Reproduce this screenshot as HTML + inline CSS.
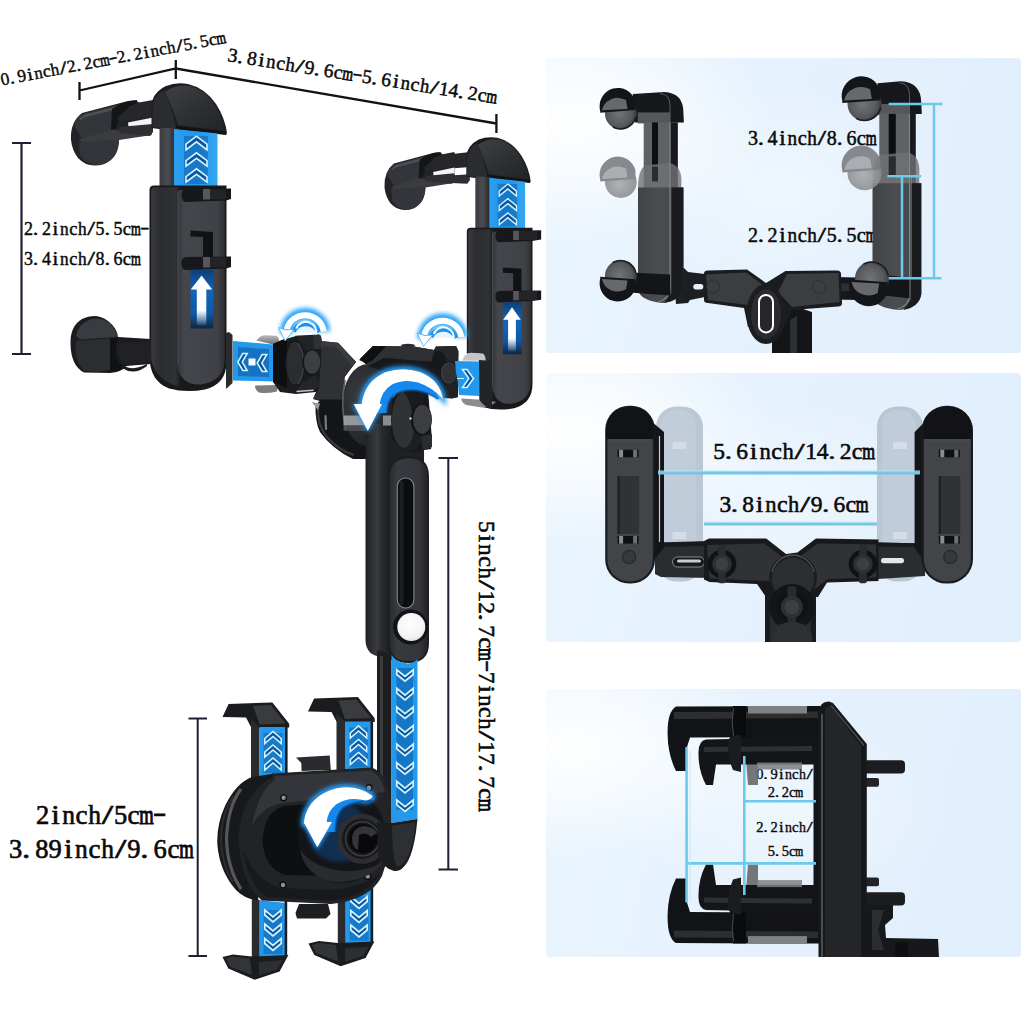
<!DOCTYPE html>
<html><head><meta charset="utf-8"><title>Holder dimensions</title>
<style>
html,body{margin:0;padding:0;background:#fff;}
body{width:1024px;height:1024px;overflow:hidden;font-family:"Liberation Serif",serif;}
svg{display:block;font-family:"Liberation Serif",serif;}
</style></head><body>
<svg width="1024" height="1024" viewBox="0 0 1024 1024">
<defs>
<linearGradient id="pg1" x1="0" y1="0" x2="1" y2="0.15">
 <stop offset="0" stop-color="#eaf5fe"/><stop offset="0.4" stop-color="#e6f2fd"/><stop offset="1" stop-color="#e2effc"/>
</linearGradient>
<radialGradient id="pgw" cx="0.06" cy="0.22" r="0.42" gradientTransform="scale(1,1)">
 <stop offset="0" stop-color="#ffffff" stop-opacity="0.95"/><stop offset="0.5" stop-color="#ffffff" stop-opacity="0.55"/><stop offset="1" stop-color="#ffffff" stop-opacity="0"/>
</radialGradient>
<radialGradient id="pgc" cx="0.5" cy="0.45" r="0.35">
 <stop offset="0" stop-color="#ffffff" stop-opacity="0.4"/><stop offset="1" stop-color="#ffffff" stop-opacity="0"/>
</radialGradient>
<linearGradient id="blueV" x1="0" y1="0" x2="1" y2="0">
 <stop offset="0" stop-color="#1177cc"/><stop offset="0.5" stop-color="#2a9cf0"/><stop offset="1" stop-color="#1a86dc"/>
</linearGradient>
<filter id="glow" x="-50%" y="-50%" width="200%" height="200%"><feGaussianBlur stdDeviation="3"/></filter>
<filter id="soft" x="-20%" y="-20%" width="140%" height="140%"><feGaussianBlur stdDeviation="0.6"/></filter>
</defs>
<rect width="1024" height="1024" fill="#ffffff"/>
<rect x="546" y="58" width="475" height="295" rx="3.5" fill="url(#pg1)"/>
<rect x="546" y="373" width="475" height="269" rx="3.5" fill="url(#pg1)"/>
<rect x="546" y="689" width="475" height="268" rx="3.5" fill="url(#pg1)"/>
<rect x="546" y="58" width="475" height="295" rx="3.5" fill="url(#pgw)"/>
<rect x="546" y="373" width="475" height="269" rx="3.5" fill="url(#pgw)"/>
<rect x="546" y="689" width="475" height="268" rx="3.5" fill="url(#pgw)"/>
<rect x="546" y="58" width="475" height="295" rx="3.5" fill="url(#pgc)"/>
<rect x="546" y="373" width="475" height="269" rx="3.5" fill="url(#pgc)"/>
<rect x="546" y="689" width="475" height="268" rx="3.5" fill="url(#pgc)"/>

<g stroke="#1b2033" stroke-width="2" fill="none" stroke-linecap="butt">
<path stroke="#101218" stroke-width="2.3" d="M79.5,82V100M79.5,90.5L175.8,68.5L496.4,123.5M175.8,60V79M496.4,114V133"/>
<path d="M21.5,143V354M12,143H31M12,354H31" stroke-width="2.2"/>
<path d="M448.3,458V869M438.5,458H458M438.5,869.5H458" stroke-width="2"/>
<path d="M197.7,718.5V956M188.5,718.5H207M188.5,956H207" stroke-width="2"/>
</g>
<g transform="translate(2,85.5) rotate(-10.8)" font-size="17.5" font-weight="normal" fill="#0a0a0a" stroke="#0a0a0a" stroke-width="0.42" text-anchor="middle"><text transform="translate(4.2,0) scale(1,1)">0</text><text transform="translate(11.0,0) scale(1.25,1)">.</text><text transform="translate(21.1,0) scale(1,1)">9</text><text transform="translate(29.6,0) scale(1.15,1)">i</text><text transform="translate(38.0,0) scale(0.96,1)">n</text><text transform="translate(46.5,0) scale(1.02,1)">c</text><text transform="translate(54.9,0) scale(0.96,1)">h</text><text transform="translate(63.4,0) scale(1.55,1)">/</text><text transform="translate(71.8,0) scale(1,1)">2</text><text transform="translate(78.6,0) scale(1.25,1)">.</text><text transform="translate(88.7,0) scale(1,1)">2</text><text transform="translate(97.2,0) scale(1.02,1)">c</text><text vector-effect="non-scaling-stroke" stroke-width="0.63" transform="translate(105.6,0) scale(0.7,1)">m</text><text transform="translate(114.1,-1.75) scale(1.5,1)">-</text><text transform="translate(122.5,0) scale(1,1)">2</text><text transform="translate(129.3,0) scale(1.25,1)">.</text><text transform="translate(139.4,0) scale(1,1)">2</text><text transform="translate(147.9,0) scale(1.15,1)">i</text><text transform="translate(156.3,0) scale(0.96,1)">n</text><text transform="translate(164.8,0) scale(1.02,1)">c</text><text transform="translate(173.2,0) scale(0.96,1)">h</text><text transform="translate(181.7,0) scale(1.55,1)">/</text><text transform="translate(190.1,0) scale(1,1)">5</text><text transform="translate(196.9,0) scale(1.25,1)">.</text><text transform="translate(207.0,0) scale(1,1)">5</text><text transform="translate(215.5,0) scale(1.02,1)">c</text><text vector-effect="non-scaling-stroke" stroke-width="0.63" transform="translate(223.9,0) scale(0.7,1)">m</text></g>
<g transform="translate(227,61) rotate(9)" font-size="19.5" font-weight="normal" fill="#0a0a0a" stroke="#0a0a0a" stroke-width="0.47" text-anchor="middle"><text transform="translate(4.9,0) scale(1,1)">3</text><text transform="translate(12.6,0) scale(1.25,1)">.</text><text transform="translate(24.3,0) scale(1,1)">8</text><text transform="translate(34.0,0) scale(1.15,1)">i</text><text transform="translate(43.7,0) scale(0.96,1)">n</text><text transform="translate(53.5,0) scale(1.02,1)">c</text><text transform="translate(63.2,0) scale(0.96,1)">h</text><text transform="translate(72.9,0) scale(1.55,1)">/</text><text transform="translate(82.6,0) scale(1,1)">9</text><text transform="translate(90.4,0) scale(1.25,1)">.</text><text transform="translate(102.1,0) scale(1,1)">6</text><text transform="translate(111.8,0) scale(1.02,1)">c</text><text vector-effect="non-scaling-stroke" stroke-width="0.70" transform="translate(121.5,0) scale(0.7,1)">m</text><text transform="translate(131.2,-1.95) scale(1.5,1)">-</text><text transform="translate(140.9,0) scale(1,1)">5</text><text transform="translate(148.7,0) scale(1.25,1)">.</text><text transform="translate(160.4,0) scale(1,1)">6</text><text transform="translate(170.1,0) scale(1.15,1)">i</text><text transform="translate(179.8,0) scale(0.96,1)">n</text><text transform="translate(189.5,0) scale(1.02,1)">c</text><text transform="translate(199.3,0) scale(0.96,1)">h</text><text transform="translate(209.0,0) scale(1.55,1)">/</text><text transform="translate(218.7,0) scale(1,1)">1</text><text transform="translate(228.4,0) scale(1,1)">4</text><text transform="translate(236.2,0) scale(1.25,1)">.</text><text transform="translate(247.9,0) scale(1,1)">2</text><text transform="translate(257.6,0) scale(1.02,1)">c</text><text vector-effect="non-scaling-stroke" stroke-width="0.70" transform="translate(267.3,0) scale(0.7,1)">m</text></g>
<g  font-size="18" font-weight="normal" fill="#0a0a0a" stroke="#0a0a0a" stroke-width="0.43" text-anchor="middle"><text transform="translate(28.5,235) scale(1,1)">2</text><text transform="translate(35.6,235) scale(1.25,1)">.</text><text transform="translate(46.4,235) scale(1,1)">2</text><text transform="translate(55.3,235) scale(1.15,1)">i</text><text transform="translate(64.3,235) scale(0.96,1)">n</text><text transform="translate(73.2,235) scale(1.02,1)">c</text><text transform="translate(82.2,235) scale(0.96,1)">h</text><text transform="translate(91.1,235) scale(1.55,1)">/</text><text transform="translate(100.1,235) scale(1,1)">5</text><text transform="translate(107.2,235) scale(1.25,1)">.</text><text transform="translate(118.0,235) scale(1,1)">5</text><text transform="translate(126.9,235) scale(1.02,1)">c</text><text vector-effect="non-scaling-stroke" stroke-width="0.65" transform="translate(135.9,235) scale(0.7,1)">m</text><text transform="translate(144.8,233.2) scale(1.5,1)">-</text></g>
<g  font-size="18" font-weight="normal" fill="#0a0a0a" stroke="#0a0a0a" stroke-width="0.43" text-anchor="middle"><text transform="translate(28.5,265) scale(1,1)">3</text><text transform="translate(35.6,265) scale(1.25,1)">.</text><text transform="translate(46.4,265) scale(1,1)">4</text><text transform="translate(55.3,265) scale(1.15,1)">i</text><text transform="translate(64.3,265) scale(0.96,1)">n</text><text transform="translate(73.2,265) scale(1.02,1)">c</text><text transform="translate(82.2,265) scale(0.96,1)">h</text><text transform="translate(91.1,265) scale(1.55,1)">/</text><text transform="translate(100.1,265) scale(1,1)">8</text><text transform="translate(107.2,265) scale(1.25,1)">.</text><text transform="translate(118.0,265) scale(1,1)">6</text><text transform="translate(126.9,265) scale(1.02,1)">c</text><text vector-effect="non-scaling-stroke" stroke-width="0.65" transform="translate(135.9,265) scale(0.7,1)">m</text></g>
<g transform="translate(479,521) rotate(90)" font-size="23.5" font-weight="normal" fill="#0a0a0a" stroke="#0a0a0a" stroke-width="0.56" text-anchor="middle"><text transform="translate(5.8,0) scale(1,1)">5</text><text transform="translate(17.4,0) scale(1.15,1)">i</text><text transform="translate(29.0,0) scale(0.96,1)">n</text><text transform="translate(40.6,0) scale(1.02,1)">c</text><text transform="translate(52.2,0) scale(0.96,1)">h</text><text transform="translate(63.8,0) scale(1.55,1)">/</text><text transform="translate(75.4,0) scale(1,1)">1</text><text transform="translate(87.0,0) scale(1,1)">2</text><text transform="translate(96.3,0) scale(1.25,1)">.</text><text transform="translate(110.2,0) scale(1,1)">7</text><text transform="translate(121.8,0) scale(1.02,1)">c</text><text vector-effect="non-scaling-stroke" stroke-width="0.85" transform="translate(133.4,0) scale(0.7,1)">m</text><text transform="translate(145.0,-2.35) scale(1.5,1)">-</text><text transform="translate(156.6,0) scale(1,1)">7</text><text transform="translate(168.2,0) scale(1.15,1)">i</text><text transform="translate(179.8,0) scale(0.96,1)">n</text><text transform="translate(191.4,0) scale(1.02,1)">c</text><text transform="translate(203.0,0) scale(0.96,1)">h</text><text transform="translate(214.6,0) scale(1.55,1)">/</text><text transform="translate(226.2,0) scale(1,1)">1</text><text transform="translate(237.8,0) scale(1,1)">7</text><text transform="translate(247.1,0) scale(1.25,1)">.</text><text transform="translate(261.0,0) scale(1,1)">7</text><text transform="translate(272.6,0) scale(1.02,1)">c</text><text vector-effect="non-scaling-stroke" stroke-width="0.85" transform="translate(284.2,0) scale(0.7,1)">m</text></g>
<g  font-size="26.5" font-weight="normal" fill="#0a0a0a" stroke="#0a0a0a" stroke-width="0.64" text-anchor="middle"><text transform="translate(42.5,824) scale(1,1)">2</text><text transform="translate(55.5,824) scale(1.15,1)">i</text><text transform="translate(68.5,824) scale(0.96,1)">n</text><text transform="translate(81.5,824) scale(1.02,1)">c</text><text transform="translate(94.5,824) scale(0.96,1)">h</text><text transform="translate(107.5,824) scale(1.55,1)">/</text><text transform="translate(120.5,824) scale(1,1)">5</text><text transform="translate(133.5,824) scale(1.02,1)">c</text><text vector-effect="non-scaling-stroke" stroke-width="0.95" transform="translate(146.5,824) scale(0.7,1)">m</text><text transform="translate(159.5,821.35) scale(1.5,1)">-</text></g>
<g  font-size="26.5" font-weight="normal" fill="#0a0a0a" stroke="#0a0a0a" stroke-width="0.64" text-anchor="middle"><text transform="translate(15.6,858) scale(1,1)">3</text><text transform="translate(26.1,858) scale(1.25,1)">.</text><text transform="translate(41.9,858) scale(1,1)">8</text><text transform="translate(55.0,858) scale(1,1)">9</text><text transform="translate(68.2,858) scale(1.15,1)">i</text><text transform="translate(81.3,858) scale(0.96,1)">n</text><text transform="translate(94.5,858) scale(1.02,1)">c</text><text transform="translate(107.6,858) scale(0.96,1)">h</text><text transform="translate(120.8,858) scale(1.55,1)">/</text><text transform="translate(133.9,858) scale(1,1)">9</text><text transform="translate(144.4,858) scale(1.25,1)">.</text><text transform="translate(160.2,858) scale(1,1)">6</text><text transform="translate(173.4,858) scale(1.02,1)">c</text><text vector-effect="non-scaling-stroke" stroke-width="0.95" transform="translate(186.5,858) scale(0.7,1)">m</text></g>
<g  font-size="20" font-weight="normal" fill="#0a0a0a" stroke="#0a0a0a" stroke-width="0.48" text-anchor="middle"><text transform="translate(752.9,145) scale(1,1)">3</text><text transform="translate(760.8,145) scale(1.25,1)">.</text><text transform="translate(772.6,145) scale(1,1)">4</text><text transform="translate(782.5,145) scale(1.15,1)">i</text><text transform="translate(792.3,145) scale(0.96,1)">n</text><text transform="translate(802.2,145) scale(1.02,1)">c</text><text transform="translate(812.0,145) scale(0.96,1)">h</text><text transform="translate(821.9,145) scale(1.55,1)">/</text><text transform="translate(831.7,145) scale(1,1)">8</text><text transform="translate(839.6,145) scale(1.25,1)">.</text><text transform="translate(851.4,145) scale(1,1)">6</text><text transform="translate(861.3,145) scale(1.02,1)">c</text><text vector-effect="non-scaling-stroke" stroke-width="0.72" transform="translate(871.1,145) scale(0.7,1)">m</text></g>
<g  font-size="20" font-weight="normal" fill="#0a0a0a" stroke="#0a0a0a" stroke-width="0.48" text-anchor="middle"><text transform="translate(752.9,241.5) scale(1,1)">2</text><text transform="translate(760.8,241.5) scale(1.25,1)">.</text><text transform="translate(772.6,241.5) scale(1,1)">2</text><text transform="translate(782.5,241.5) scale(1.15,1)">i</text><text transform="translate(792.3,241.5) scale(0.96,1)">n</text><text transform="translate(802.2,241.5) scale(1.02,1)">c</text><text transform="translate(812.0,241.5) scale(0.96,1)">h</text><text transform="translate(821.9,241.5) scale(1.55,1)">/</text><text transform="translate(831.7,241.5) scale(1,1)">5</text><text transform="translate(839.6,241.5) scale(1.25,1)">.</text><text transform="translate(851.4,241.5) scale(1,1)">5</text><text transform="translate(861.3,241.5) scale(1.02,1)">c</text><text vector-effect="non-scaling-stroke" stroke-width="0.72" transform="translate(871.1,241.5) scale(0.7,1)">m</text></g>
<g  font-size="23.5" font-weight="normal" fill="#0a0a0a" stroke="#0a0a0a" stroke-width="0.56" text-anchor="middle"><text transform="translate(719.1,458.5) scale(1,1)">5</text><text transform="translate(728.4,458.5) scale(1.25,1)">.</text><text transform="translate(742.1,458.5) scale(1,1)">6</text><text transform="translate(753.6,458.5) scale(1.15,1)">i</text><text transform="translate(765.1,458.5) scale(0.96,1)">n</text><text transform="translate(776.6,458.5) scale(1.02,1)">c</text><text transform="translate(788.1,458.5) scale(0.96,1)">h</text><text transform="translate(799.6,458.5) scale(1.55,1)">/</text><text transform="translate(811.1,458.5) scale(1,1)">1</text><text transform="translate(822.6,458.5) scale(1,1)">4</text><text transform="translate(831.9,458.5) scale(1.25,1)">.</text><text transform="translate(845.6,458.5) scale(1,1)">2</text><text transform="translate(857.1,458.5) scale(1.02,1)">c</text><text vector-effect="non-scaling-stroke" stroke-width="0.85" transform="translate(868.6,458.5) scale(0.7,1)">m</text></g>
<g  font-size="23.5" font-weight="normal" fill="#0a0a0a" stroke="#0a0a0a" stroke-width="0.56" text-anchor="middle"><text transform="translate(725.3,512) scale(1,1)">3</text><text transform="translate(734.4,512) scale(1.25,1)">.</text><text transform="translate(748.1,512) scale(1,1)">8</text><text transform="translate(759.5,512) scale(1.15,1)">i</text><text transform="translate(770.9,512) scale(0.96,1)">n</text><text transform="translate(782.3,512) scale(1.02,1)">c</text><text transform="translate(793.7,512) scale(0.96,1)">h</text><text transform="translate(805.1,512) scale(1.55,1)">/</text><text transform="translate(816.5,512) scale(1,1)">9</text><text transform="translate(825.6,512) scale(1.25,1)">.</text><text transform="translate(839.3,512) scale(1,1)">6</text><text transform="translate(850.7,512) scale(1.02,1)">c</text><text vector-effect="non-scaling-stroke" stroke-width="0.85" transform="translate(862.1,512) scale(0.7,1)">m</text></g>
<g  font-size="14.5" font-weight="normal" fill="#0a0a0a" stroke="#0a0a0a" stroke-width="0.35" text-anchor="middle"><text transform="translate(759.9,779) scale(1,1)">0</text><text transform="translate(765.6,779) scale(1.25,1)">.</text><text transform="translate(774.1,779) scale(1,1)">9</text><text transform="translate(781.2,779) scale(1.15,1)">i</text><text transform="translate(788.4,779) scale(0.96,1)">n</text><text transform="translate(795.4,779) scale(1.02,1)">c</text><text transform="translate(802.5,779) scale(0.96,1)">h</text><text transform="translate(809.6,779) scale(1.55,1)">/</text></g>
<g  font-size="14.5" font-weight="normal" fill="#0a0a0a" stroke="#0a0a0a" stroke-width="0.35" text-anchor="middle"><text transform="translate(771.3,796.5) scale(1,1)">2</text><text transform="translate(776.9,796.5) scale(1.25,1)">.</text><text transform="translate(785.3,796.5) scale(1,1)">2</text><text transform="translate(792.3,796.5) scale(1.02,1)">c</text><text vector-effect="non-scaling-stroke" stroke-width="0.52" transform="translate(799.3,796.5) scale(0.7,1)">m</text></g>
<g  font-size="14.5" font-weight="normal" fill="#0a0a0a" stroke="#0a0a0a" stroke-width="0.35" text-anchor="middle"><text transform="translate(759.9,832) scale(1,1)">2</text><text transform="translate(765.6,832) scale(1.25,1)">.</text><text transform="translate(774.1,832) scale(1,1)">2</text><text transform="translate(781.2,832) scale(1.15,1)">i</text><text transform="translate(788.4,832) scale(0.96,1)">n</text><text transform="translate(795.4,832) scale(1.02,1)">c</text><text transform="translate(802.5,832) scale(0.96,1)">h</text><text transform="translate(809.6,832) scale(1.55,1)">/</text></g>
<g  font-size="14.5" font-weight="normal" fill="#0a0a0a" stroke="#0a0a0a" stroke-width="0.35" text-anchor="middle"><text transform="translate(771.3,856) scale(1,1)">5</text><text transform="translate(776.9,856) scale(1.25,1)">.</text><text transform="translate(785.3,856) scale(1,1)">5</text><text transform="translate(792.3,856) scale(1.02,1)">c</text><text vector-effect="non-scaling-stroke" stroke-width="0.52" transform="translate(799.3,856) scale(0.7,1)">m</text></g>
<defs>
<linearGradient id="sideL" x1="0" y1="0" x2="1" y2="0"><stop offset="0" stop-color="#3a3b3f"/><stop offset="0.3" stop-color="#2c2d31"/><stop offset="0.85" stop-color="#303135"/><stop offset="1" stop-color="#1c1d20"/></linearGradient>
<linearGradient id="faceL" x1="0" y1="0" x2="1" y2="0"><stop offset="0" stop-color="#34353a"/><stop offset="0.15" stop-color="#45464b"/><stop offset="0.85" stop-color="#404146"/><stop offset="1" stop-color="#2e2f33"/></linearGradient>
<linearGradient id="colL" x1="0" y1="0" x2="1" y2="0"><stop offset="0" stop-color="#3a3b40"/><stop offset="0.45" stop-color="#4b4d52"/><stop offset="1" stop-color="#1b1c1f"/></linearGradient>
<linearGradient id="blueStrip" x1="0" y1="0" x2="1" y2="0"><stop offset="0" stop-color="#2a9ff0"/><stop offset="0.5" stop-color="#2296ea"/><stop offset="1" stop-color="#34a8f2"/></linearGradient>
<linearGradient id="winB" x1="0" y1="0" x2="0" y2="1"><stop offset="0" stop-color="#0e3f78"/><stop offset="0.35" stop-color="#1166b8"/><stop offset="0.75" stop-color="#0d58a3"/><stop offset="1" stop-color="#12253f"/></linearGradient>
<linearGradient id="arrW" x1="0" y1="0" x2="0" y2="1"><stop offset="0" stop-color="#ffffff"/><stop offset="0.7" stop-color="#ffffff"/><stop offset="1" stop-color="#ffffff" stop-opacity="0.1"/></linearGradient>
<linearGradient id="capG" x1="0" y1="0" x2="1" y2="1"><stop offset="0" stop-color="#404145"/><stop offset="0.5" stop-color="#2f3034"/><stop offset="1" stop-color="#222327"/></linearGradient>
<linearGradient id="knobG" x1="0" y1="0" x2="0" y2="1"><stop offset="0" stop-color="#3a3b3f"/><stop offset="0.5" stop-color="#242528"/><stop offset="1" stop-color="#17181a"/></linearGradient>
</defs>
<g transform="translate(0,0)"><g transform="translate(0,0)"><path d="M71,140 Q70,122 82,113 L128,101 Q138,99 140,104 L153,101 L153,128 L140,131 L119,137 Q119,158 104,164 Q88,169 78,158 Q72,150 71,140 Z" fill="#222327"/><path d="M74,126 Q76,116 84,113.5 L128,102 Q135,101 136,106 L116,113 L112,133 L82,138 Z" fill="#34353a"/><path d="M79,139 L112,130 L150,132 L152,135 L119,140 L82,143 Z" fill="#3b3c40"/><path d="M80,118.5 Q83,115 86,114.3 L126,104 L126.5,106.5 L86,117 Q82,118 80,121 Z" fill="#55575c" opacity="0.8"/><path d="M79,142 L119,139.5 Q119,158 104,164 Q88,168 80,155 Z" fill="#34353a"/><path d="M112,109 Q122,101 137,100 L137,104 Q122,107 116,128 L111,130 Z" fill="#141517"/><path d="M128,122.5 L153,117.5 L153,126 L129,131 Z" fill="#f4f4f4"/><path d="M119,127 L153,124 L153,132 L150,136 L119,133 Z" fill="#2e2f33"/><path d="M136,103 L153,100 L153,116 L120,122 L117,118 Z" fill="#26272a"/></g></g><g transform="translate(0,0) translate(0,0)"><path d="M151.5,128 L151.5,106 Q152,93 166,86 Q176,82 188,84 Q205,88 216,104 Q225,118 227,133 L226,135 L176,129.5 L174,131 Z" fill="#1c1d20"/><path d="M165,92 Q176,84 190,86 Q205,90 215,105 Q223,118 225,131 L178,125 Q172,106 165,92 Z" fill="url(#capG)"/><path d="M152.5,127 L152.5,108 Q153,96 164,90 Q171,105 176,126 L174,130 Z" fill="#2b2c30"/><path d="M176,126 L225,131.5 L226,134.5 L176,129.5Z" fill="#111214"/></g><g transform="translate(0,0)"><rect x="159.5" y="128" width="19" height="60" fill="url(#colL)"/></g><g transform="translate(0,0)"><path d="M174,129 L217.5,133.5 L217.5,187 L174,187 Z" fill="url(#blueStrip)"/><rect x="184" y="136" width="24" height="48" fill="#0f5fae" opacity="0.55" filter="url(#soft)"/><path d="M186.0,144.2 L196.5,136.2 L207.0,144.2 L207.0,149.8 L196.5,141.8 L186.0,149.8 Z" fill="#0f549c" stroke="#d4f6ff" stroke-width="1.6" stroke-linejoin="miter"/><path d="M186.0,160.7 L196.5,152.8 L207.0,160.7 L207.0,166.2 L196.5,158.3 L186.0,166.2 Z" fill="#0f549c" stroke="#d4f6ff" stroke-width="1.6" stroke-linejoin="miter"/><path d="M186.0,176.7 L196.5,168.8 L207.0,176.7 L207.0,182.2 L196.5,174.3 L186.0,182.2 Z" fill="#0f549c" stroke="#d4f6ff" stroke-width="1.6" stroke-linejoin="miter"/></g><g transform="translate(0,0)"><path d="M149.5,190 Q149.5,185.5 154,185.5 L226.5,185.5 L226.5,362 Q226.5,384 205,389.5 Q186,393 169,388.5 Q149.5,381 149.5,356 Z" fill="#18191c"/><path d="M151.2,191 Q151.2,187.2 155,187.2 L180,187.2 L180,387 Q160,381 154.5,369 Q151.2,363 151.2,356 Z" fill="url(#sideL)"/></g><g transform="translate(0,0)"><path d="M177.3,190 L224.7,190 L224.7,360 Q224,381 201,384.5 Q181,385.5 177.3,366 Z" fill="url(#faceL)"/><path d="M178,192 L178,364" stroke="#55575c" stroke-width="0.9" opacity="0.8"/><path d="M181.5,194.5 Q181.5,189.5 186,189 L231,188.5 L231,199 L226,200.5 L186,202 Q181.5,201.5 181.5,195.5 Z" fill="#17181b"/><rect x="203" y="189" width="7" height="10.5" fill="#55575c"/><rect x="210" y="189.3" width="16" height="10" fill="#232428"/><path d="M181.5,262.5 Q181.5,257.5 186,257 L231,256.5 L231,267 L226,268.5 L186,270 Q181.5,269.5 181.5,263.5 Z" fill="#17181b"/><rect x="203" y="257" width="7" height="10.5" fill="#55575c"/><rect x="210" y="257.3" width="16" height="10" fill="#232428"/><path d="M190.5,230.5 L213,232 L213,257 L203,257 L203,237 L190.5,236.5 Z" fill="#111215"/><rect x="190.5" y="270" width="22.8" height="58.5" fill="url(#winB)"/><path d="M201.6,275.5 L212.2,289.6 L206.3,289.6 L206.3,325 L196.8,325 L196.8,289.6 L190.8,289.6 Z" fill="url(#arrW)"/></g><g transform="translate(0,0)"><path d="M70.5,344 Q70,326 82,319 Q96,312 108,321 Q117,328 118,337 L151,339 L151,364 L126,366 Q122,372 110,373 L84,372.5 Q71,366 70.5,344 Z" fill="#1b1c1f"/><path d="M76,336 Q78,324 90,319.5 Q103,316 112,326 Q117,332 117.5,337 L80,339.5 Z" fill="#3a3b40"/><path d="M76,341 L110,338.5 L110,370 Q96,373 84,370.5 Q74,362 76,341 Z" fill="#2c2d31"/><path d="M110,338.5 L118,337.5 Q112,352 120,364 L126,366 Q122,371 110,371.5 Z" fill="#111214"/><path d="M118,343 L151,341 L151,362 L124,364 Q115,354 118,343 Z" fill="#202124"/><path d="M122,364.5 Q132,372 147,364 L147,366 Q134,376 122,368 Z" fill="#1b1c1f"/></g>
<g transform="matrix(0.853,0,0,0.885,339.3,63.5)"><path d="M118,104 L153,100 L153,117 L102,121 Z" fill="#26272a"/><path d="M107,128 L153,125 L153,132 L150,136 L101,133.5 Z" fill="#2e2f33"/><g transform="translate(-18,0)"><path d="M71,140 Q70,122 82,113 L128,101 Q138,99 140,104 L153,101 L153,128 L140,131 L119,137 Q119,158 104,164 Q88,169 78,158 Q72,150 71,140 Z" fill="#222327"/><path d="M74,126 Q76,116 84,113.5 L128,102 Q135,101 136,106 L116,113 L112,133 L82,138 Z" fill="#34353a"/><path d="M79,139 L112,130 L150,132 L152,135 L119,140 L82,143 Z" fill="#3b3c40"/><path d="M80,118.5 Q83,115 86,114.3 L126,104 L126.5,106.5 L86,117 Q82,118 80,121 Z" fill="#55575c" opacity="0.8"/><path d="M79,142 L119,139.5 Q119,158 104,164 Q88,168 80,155 Z" fill="#34353a"/><path d="M112,109 Q122,101 137,100 L137,104 Q122,107 116,128 L111,130 Z" fill="#141517"/><path d="M128,122.5 L153,117.5 L153,126 L129,131 Z" fill="#f4f4f4"/><path d="M119,127 L153,124 L153,132 L150,136 L119,133 Z" fill="#2e2f33"/><path d="M136,103 L153,100 L153,116 L120,122 L117,118 Z" fill="#26272a"/></g></g><g transform="matrix(0.853,0,0,0.885,339.3,63.5) translate(-2.6,0)"><path d="M151.5,128 L151.5,106 Q152,93 166,86 Q176,82 188,84 Q205,88 216,104 Q225,118 227,133 L226,135 L176,129.5 L174,131 Z" fill="#1c1d20"/><path d="M165,92 Q176,84 190,86 Q205,90 215,105 Q223,118 225,131 L178,125 Q172,106 165,92 Z" fill="url(#capG)"/><path d="M152.5,127 L152.5,108 Q153,96 164,90 Q171,105 176,126 L174,130 Z" fill="#2b2c30"/><path d="M176,126 L225,131.5 L226,134.5 L176,129.5Z" fill="#111214"/></g><g transform="matrix(0.853,0,0,0.885,339.3,63.5)"><rect x="159.5" y="128" width="19" height="60" fill="url(#colL)"/></g><g transform="matrix(0.823,0,0,0.885,346.1,63.5)"><path d="M174,129 L217.5,133.5 L217.5,187 L174,187 Z" fill="url(#blueStrip)"/><rect x="184" y="136" width="24" height="48" fill="#0f5fae" opacity="0.55" filter="url(#soft)"/><path d="M186.0,144.2 L196.5,136.2 L207.0,144.2 L207.0,149.8 L196.5,141.8 L186.0,149.8 Z" fill="#0f549c" stroke="#d4f6ff" stroke-width="1.6" stroke-linejoin="miter"/><path d="M186.0,160.7 L196.5,152.8 L207.0,160.7 L207.0,166.2 L196.5,158.3 L186.0,166.2 Z" fill="#0f549c" stroke="#d4f6ff" stroke-width="1.6" stroke-linejoin="miter"/><path d="M186.0,176.7 L196.5,168.8 L207.0,176.7 L207.0,182.2 L196.5,174.3 L186.0,182.2 Z" fill="#0f549c" stroke="#d4f6ff" stroke-width="1.6" stroke-linejoin="miter"/></g><g transform="matrix(0.853,0,0,0.885,339.3,63.5)"><path d="M149.5,190 Q149.5,185.5 154,185.5 L226.5,185.5 L226.5,362 Q226.5,384 205,389.5 Q186,393 169,388.5 Q149.5,381 149.5,356 Z" fill="#18191c"/><path d="M151.2,191 Q151.2,187.2 155,187.2 L180,187.2 L180,387 Q160,381 154.5,369 Q151.2,363 151.2,356 Z" fill="url(#sideL)"/></g><g transform="matrix(0.823,0,0,0.885,346.1,63.5)"><path d="M177.3,190 L224.7,190 L224.7,360 Q224,381 201,384.5 Q181,385.5 177.3,366 Z" fill="url(#faceL)"/><path d="M178,192 L178,364" stroke="#55575c" stroke-width="0.9" opacity="0.8"/><path d="M181.5,194.5 Q181.5,189.5 186,189 L237,188.5 L237,199 L226,200.5 L186,202 Q181.5,201.5 181.5,195.5 Z" fill="#17181b"/><rect x="203" y="189" width="7" height="10.5" fill="#55575c"/><rect x="210" y="189.3" width="22" height="10" fill="#232428"/><path d="M181.5,262.5 Q181.5,257.5 186,257 L237,256.5 L237,267 L226,268.5 L186,270 Q181.5,269.5 181.5,263.5 Z" fill="#17181b"/><rect x="203" y="257" width="7" height="10.5" fill="#55575c"/><rect x="210" y="257.3" width="22" height="10" fill="#232428"/><path d="M190.5,230.5 L213,232 L213,257 L203,257 L203,237 L190.5,236.5 Z" fill="#111215"/><rect x="190.5" y="270" width="22.8" height="58.5" fill="url(#winB)"/><path d="M201.6,275.5 L212.2,289.6 L206.3,289.6 L206.3,325 L196.8,325 L196.8,289.6 L190.8,289.6 Z" fill="url(#arrW)"/></g>
<defs>
<linearGradient id="armSide" x1="0" y1="0" x2="1" y2="0"><stop offset="0" stop-color="#202124"/><stop offset="0.45" stop-color="#3a3b3f"/><stop offset="0.6" stop-color="#2a2b2e"/><stop offset="1" stop-color="#1a1b1e"/></linearGradient>
<linearGradient id="armFace" x1="0" y1="0" x2="1" y2="0"><stop offset="0" stop-color="#2b2c30"/><stop offset="0.2" stop-color="#393a3f"/><stop offset="0.8" stop-color="#34353a"/><stop offset="1" stop-color="#222327"/></linearGradient>
<radialGradient id="hubG" cx="0.35" cy="0.4" r="0.8"><stop offset="0" stop-color="#3a3b40"/><stop offset="0.7" stop-color="#26272b"/><stop offset="1" stop-color="#17181b"/></radialGradient>
<radialGradient id="btnG" cx="0.45" cy="0.4" r="0.7"><stop offset="0" stop-color="#ffffff"/><stop offset="0.7" stop-color="#f3f3f3"/><stop offset="1" stop-color="#cfcfcf"/></radialGradient>
<linearGradient id="metal" x1="0" y1="0" x2="0" y2="1"><stop offset="0" stop-color="#b9bbbe"/><stop offset="1" stop-color="#6e7074"/></linearGradient>
<filter id="glow2" x="-50%" y="-50%" width="200%" height="200%"><feGaussianBlur stdDeviation="2.2"/></filter>
<filter id="glow5" x="-50%" y="-50%" width="200%" height="200%"><feGaussianBlur stdDeviation="4"/></filter>
</defs>
<rect x="461" y="353.5" width="18.5" height="60" fill="#ffffff"/><path d="M226,333 L229,332 L232.5,335 L232.5,383 L226,389 Z" fill="#2a2b2f"/><path d="M233,341 L273,344.5 L273,381.5 L233,380.5 Z" fill="#2499ec"/><path d="M238,347 L269,349 L269,377 L238,376 Z" fill="#0c5aa8" opacity="0.6" filter="url(#soft)"/><path d="M242.8,353.5 L237.8,362.0 L242.8,370.5 L247.2,370.5 L242.2,362.0 L247.2,353.5 Z" fill="#0f549c" stroke="#d4f6ff" stroke-width="1.5"/><path d="M262.2,354.5 L257.2,363.0 L262.2,371.5 L266.8,371.5 L261.8,363.0 L266.8,354.5 Z" fill="#0f549c" stroke="#d4f6ff" stroke-width="1.5"/><rect x="248.5" y="358.5" width="7" height="7" fill="#f2fbff"/><path d="M256.5,340.5 Q260,335 266,335.2 L276,335.8 Q280,338 279,343.5 L273,344.5 Z" fill="url(#metal)"/><path d="M255,385.5 L278,385 L277,391.5 Q266,394 259,392.5 Q255,390 255,385.5 Z" fill="#7c7e82"/><path d="M273,344 L282,340 L296,336 L321,335.5 L322,351 L338,343 L356,362 L344,378 L342,403 L330,404 L313,399 L316,392 L296,394 L280,392 L273,382 Z" fill="#1b1c1f"/><path d="M321,341 L338,342.7 L356,362 L345,376 L342,403 L313.5,399 L319,388.5 L321.5,350 Z" fill="#303135"/><path d="M321,341 L338,342.7 L356,362 L352,366 L336,347 L321.5,346 Z" fill="#3b3c41"/><path d="M273,344 L287,338 L287,388 L273,382 Z" fill="#0d0e10"/><path d="M295.1,335.8 L319.1,334.6 Q321.8,337 321.5,341 L320.3,348.5 L306.3,351.5 L301.6,343.4 Z" fill="#222326"/><path d="M313,335 L319.1,334.6 Q321.8,337 321.5,341 L320.3,348.5 L314.5,349.5 Z" fill="#303135"/><path d="M301.6,383.3 L315.6,375 L320.3,385.6 L313.9,390.8 L295.7,392 Z" fill="#25262a"/><path d="M296.5,391.4 L313.5,390.2" stroke="#c3c5c8" stroke-width="1.5"/><ellipse cx="294" cy="363.3" rx="9" ry="23" fill="#17181b"/><ellipse cx="294.3" cy="363.3" rx="7.8" ry="21.5" fill="#2c2d31"/><path d="M298,343 Q303.5,352 303.5,363 Q303.5,375 298,384" stroke="#45464b" stroke-width="1.4" fill="none"/><ellipse cx="311.6" cy="362.4" rx="9.3" ry="12.8" fill="#141518"/><ellipse cx="312.1" cy="362.2" rx="8.2" ry="11.6" fill="#3d3e42"/><path d="M315.5,405 L321,399.5 L366,399.5 L366,459 L353,459 Q332,449 320,432 Q315,422 315.5,404 Z" fill="#141518"/><path d="M318,408 Q317,425 327,437 Q338,450 354,455" stroke="#3a3b40" stroke-width="2" fill="none"/><path d="M325.5,416 L326,429" stroke="#77797d" stroke-width="2.2" stroke-linecap="round"/><path d="M311.5,402 L320,403.5 L318,410 Z" fill="#9a9c9f"/><ellipse cx="368" cy="405" rx="26" ry="41" fill="url(#hubG)"/><path d="M345,380 Q340,405 346,430" stroke="#5b5d61" stroke-width="1.6" fill="none"/><rect x="343.5" y="415.5" width="23" height="10" fill="#a9abae" opacity="0.85" filter="url(#soft)"/><rect x="343.5" y="425" width="23" height="6" fill="#55575b" opacity="0.7" filter="url(#soft)"/><path d="M359,360 L373,346 L414,346.5 L434,350 L436,346.5 L456,346 L458.5,351 L458,397 L452,398.5 L442,398 L420,380 L385,372 Z" fill="#1f2023"/><path d="M360,359 L373,346 L414,346.5 L434,350 L432,362 L384,358 L368,366 Z" fill="#2f3034"/><path d="M360,359 L373,346 L386,346.2 L372,361 L366,364 Z" fill="#0f1012"/><path d="M368,366 L384,358 L432,362 L433,380 L385,372 Z" fill="#17181b"/><ellipse cx="408" cy="345.5" rx="7" ry="1.8" fill="#2a2b2e"/><path d="M434,350 L436,346.5 L456,346 Q459,350 458,360 L451,361 Z" fill="#26272a"/><path d="M451,385 L458,384 L458,397 L451.5,398.5 Z" fill="#202124"/><ellipse cx="439" cy="373" rx="9" ry="22" fill="#17181b"/><ellipse cx="448.7" cy="373" rx="7.8" ry="10.6" fill="#3a3b3f"/><ellipse cx="449" cy="373" rx="6.6" ry="9.2" fill="#303135"/><path d="M455,361 L479,361.6 L479.3,396 L459,395 L458,384 L456,372 Z" fill="#2499ec"/><path d="M462.5,369.5 L467,369.5 L473.5,378.5 L467,387.5 L462.5,387.5 L468.8,378.5 Z" fill="#0f549c" stroke="#d4f6ff" stroke-width="1.5"/><path d="M457,378.5 L464,378.5" stroke="#c9f6ff" stroke-width="1"/><path d="M462.5,360.5 Q464,354 471,352.8 L483,353.5 Q486,356 485.5,361 Z" fill="#c3c5c8"/><path d="M461.5,398.5 L485,400 L496,402 Q490,407 482,407.5 L466,405 Q461,402 461.5,398.5 Z" fill="#8a8c90"/><path d="M479,360 L492,361 L492,409 Q484,407 479.5,400 Z" fill="#232428"/>
<path d="M365.5,432 Q366,424 372,424 L392,424 L392,660 Q376,657 370.5,653 Q365.5,648 365.5,640 Z" fill="url(#armSide)"/><path d="M377,650 L391.5,655 L391.5,824 L377,826 Z" fill="#1d1e21"/><path d="M380,656 L383,656 L383,823 L380,823 Z" fill="#3a3b3f"/><path d="M388,438 L424,438 L424,470 L388,470 Z" fill="#1f2023"/><path d="M388,476 Q388,456.5 408.5,456.5 Q429,456.5 429,476 L429,643 Q429,663 408.5,663 Q388,663 388,643 Z" fill="#1c1d20"/><path d="M390,476 Q390,458.5 408.5,458.5 Q427.5,458.5 427.5,476 L427.5,643 Q427.5,661 408.5,661 Q390,661 390,643 Z" fill="url(#armFace)"/><rect x="397.3" y="478" width="16.6" height="130" rx="8.3" fill="#0c0d0f" stroke="#85878b" stroke-width="1.1"/><rect x="399.5" y="481" width="4" height="124" rx="2" fill="#1d1e21"/><circle cx="410.5" cy="627" r="17.5" fill="#121316"/><circle cx="411.3" cy="627" r="14" fill="url(#btnG)"/>
<path d="M392,400 Q398,388 412,388 L428,390 L432,440 L431,449 L412,452 Q396,450 391,436 Z" fill="#17181b"/><rect x="383" y="415.5" width="9" height="10" fill="#a5a7aa" opacity="0.8" filter="url(#soft)"/><ellipse cx="409" cy="420" rx="18" ry="31" fill="#1d1e21"/><ellipse cx="403.5" cy="420" rx="11.5" ry="28" fill="#313236"/><path d="M404,392 Q414,388 424,392 L424,408 L412,412 Q410,400 404,392 Z" fill="#1a1b1e"/><path d="M421,436 L432,434 L432,447 L423,450 Z" fill="#2b2c30"/><ellipse cx="421.3" cy="419.5" rx="10.6" ry="16" fill="#121316"/><ellipse cx="422.3" cy="419.3" rx="9.3" ry="14.6" fill="#3c3d41"/><circle cx="410.5" cy="418.5" r="1.2" fill="#d0d0d0"/>
<path d="M323.7,331.5 A18.7,18.139 0 0 0 286.3,333.5" stroke="#2ea6f7" stroke-width="13" fill="none" filter="url(#glow2)"/><path d="M319.7,332.5 A14.7,14.139 0 0 0 292.3,332.5 Z" fill="#e4f4ff" opacity="0.9" filter="url(#soft)"/><path d="M318.7,332.5 A13.7,13.139 0 0 0 293.3,331.5" stroke="#1f93ee" stroke-width="5" fill="none"/><path d="M315.7,334.5 A10.2,9.639 0 0 0 296.3,328.5" stroke="#ffffff" stroke-width="2" fill="none"/><path d="M323.7,331.5 A18.7,18.139 0 0 0 286.8,329.5" stroke="#ffffff" stroke-width="6" fill="none"/><path d="M285,341 L278.7,327.7 L286.5,330 L294,329.5 Z" fill="#ffffff" stroke="#2ea6f7" stroke-width="0.7"/>
<path d="M461.2,337 A18.7,18.139 0 0 0 423.8,339" stroke="#2ea6f7" stroke-width="13" fill="none" filter="url(#glow2)"/><path d="M457.2,338 A14.7,14.139 0 0 0 429.8,338 Z" fill="#e4f4ff" opacity="0.9" filter="url(#soft)"/><path d="M456.2,338 A13.7,13.139 0 0 0 430.8,337" stroke="#1f93ee" stroke-width="5" fill="none"/><path d="M453.2,340 A10.2,9.639 0 0 0 433.8,334" stroke="#ffffff" stroke-width="2" fill="none"/><path d="M461.2,337 A18.7,18.139 0 0 0 424.3,335" stroke="#ffffff" stroke-width="6" fill="none"/><path d="M423.5,346.5 L417.2,333.2 L425,335.5 L432.5,335 Z" fill="#ffffff" stroke="#2ea6f7" stroke-width="0.7"/>
<path d="M443,399 Q440,380 420,372 Q403,366.5 386,372 Q364,381 361.5,405.5 L379.5,405.5 Q381,391 392,384.5 Q404,378.5 418,382.5 Q432,387 443,399 Z" fill="#1e8ff0" filter="url(#glow5)"/><path d="M443,399 Q440,380 420,372 Q403,366.5 386,372 Q364,381 361.5,405.5 L379.5,405.5 Q381,391 392,384.5 Q404,378.5 418,382.5 Q432,387 443,399 Z" fill="none" stroke="#2a9ff5" stroke-width="5" filter="url(#glow2)"/><path d="M440,399.5 Q430,393 417,390.5 Q402,389 393,396 Q387,402 387,413 L373,413 Q374,394 386,385 Q401,376 420,381 Q433,386 440,399.5 Z" fill="#1488ec"/><path d="M387,413 Q387,402 393,396 Q402,389 417,390.5 Q430,393 438,399" stroke="#0c4f98" stroke-width="2" fill="none" opacity="0.7"/><path d="M352,404.5 L384,404.5 L368,433 Z" fill="#2297f2" filter="url(#glow2)"/><path d="M443,399 Q440,380 420,372 Q403,366.5 386,372 Q364,381 361.5,405.5 L379.5,405.5 Q381,391 392,384.5 Q404,378.5 418,382.5 Q432,387 443,399 Z" fill="#ffffff"/><path d="M353.7,404 L382,404 L367.8,431 Z" fill="#ffffff"/>
<g transform="translate(0,0)"><path d="M222.5,717 L228.6,704 L272.4,702.4 L289.2,723.7 L289.2,727.5 L259,728 L251,727 L246,717.5 Z" fill="#1b1c1f"/><path d="M253,706 L271,705 L285.5,723.5 L259.5,724.5 Z" fill="#3a3b3f"/><path d="M251,719 L259.5,727 L259.5,781 L251,781 Z" fill="#2a2b2f"/><path d="M259.5,727 L286.5,727 L286.5,774 L259.5,780.5 Z" fill="#2499ec"/><rect x="285" y="727" width="2.6" height="50" fill="#1d1e21"/><rect x="263.5" y="733" width="19" height="40" fill="#0d5fae" opacity="0.55" filter="url(#soft)"/><path d="M264.8,738.5 L273.0,731.5 L281.2,738.5 L281.2,743.5 L273.0,736.5 L264.8,743.5 Z" fill="#0f549c" stroke="#d4f6ff" stroke-width="1.6" stroke-linejoin="miter"/><path d="M264.8,752.0 L273.0,745.0 L281.2,752.0 L281.2,757.0 L273.0,750.0 L264.8,757.0 Z" fill="#0f549c" stroke="#d4f6ff" stroke-width="1.6" stroke-linejoin="miter"/><path d="M264.8,765.0 L273.0,758.0 L281.2,765.0 L281.2,770.0 L273.0,763.0 L264.8,770.0 Z" fill="#0f549c" stroke="#d4f6ff" stroke-width="1.6" stroke-linejoin="miter"/></g><g transform="translate(85.5,-5.5)"><path d="M222.5,717 L228.6,704 L272.4,702.4 L289.2,723.7 L289.2,727.5 L259,728 L251,727 L246,717.5 Z" fill="#1b1c1f"/><path d="M253,706 L271,705 L285.5,723.5 L259.5,724.5 Z" fill="#3a3b3f"/><path d="M251,719 L259.5,727 L259.5,781 L251,781 Z" fill="#2a2b2f"/><path d="M259.5,727 L286.5,727 L286.5,774 L259.5,780.5 Z" fill="#2499ec"/><rect x="285" y="727" width="2.6" height="50" fill="#1d1e21"/><rect x="263.5" y="733" width="19" height="40" fill="#0d5fae" opacity="0.55" filter="url(#soft)"/><path d="M264.8,738.5 L273.0,731.5 L281.2,738.5 L281.2,743.5 L273.0,736.5 L264.8,743.5 Z" fill="#0f549c" stroke="#d4f6ff" stroke-width="1.6" stroke-linejoin="miter"/><path d="M264.8,752.0 L273.0,745.0 L281.2,752.0 L281.2,757.0 L273.0,750.0 L264.8,757.0 Z" fill="#0f549c" stroke="#d4f6ff" stroke-width="1.6" stroke-linejoin="miter"/><path d="M264.8,765.0 L273.0,758.0 L281.2,765.0 L281.2,770.0 L273.0,763.0 L264.8,770.0 Z" fill="#0f549c" stroke="#d4f6ff" stroke-width="1.6" stroke-linejoin="miter"/></g><path d="M296,757.5 L329.7,755.6 L330.8,770 L301.6,771 L301.3,763 Z" fill="#2a2b2e"/><g transform="translate(0,0)"><path d="M251.8,898 L259.7,900 L259.7,958 L251.8,958 Z" fill="#2a2b2f"/><path d="M259.7,900 L286,903 L286,956 L259.7,958 Z" fill="#2499ec"/><rect x="284.6" y="900" width="2.6" height="56" fill="#1d1e21"/><rect x="263.5" y="910" width="19" height="44" fill="#0d5fae" opacity="0.55" filter="url(#soft)"/><path d="M264.8,915.0 L273.0,922.0 L281.2,915.0 L281.2,910.0 L273.0,917.0 L264.8,910.0 Z" fill="#0f549c" stroke="#d4f6ff" stroke-width="1.7"/><path d="M264.8,929.0 L273.0,936.0 L281.2,929.0 L281.2,924.0 L273.0,931.0 L264.8,924.0 Z" fill="#0f549c" stroke="#d4f6ff" stroke-width="1.7"/><path d="M264.8,943.5 L273.0,950.5 L281.2,943.5 L281.2,938.5 L273.0,945.5 L264.8,938.5 Z" fill="#0f549c" stroke="#d4f6ff" stroke-width="1.7"/><path d="M222.5,957 L233,954.5 L251.8,956.5 L288.4,955 L279.6,971.5 L254.7,979.7 L228.3,968.5 Z" fill="#1b1c1f"/><path d="M226,958.5 L233,956.5 L250,958.5 L252,975 L230,966.5 Z" fill="#333438"/><path d="M259,962 L283,960 L277,969.5 L259,975.5 Z" fill="#2d2e32"/></g><g transform="translate(86,-13.5)"><path d="M251.8,898 L259.7,900 L259.7,958 L251.8,958 Z" fill="#2a2b2f"/><path d="M259.7,900 L286,903 L286,956 L259.7,958 Z" fill="#2499ec"/><rect x="284.6" y="900" width="2.6" height="56" fill="#1d1e21"/><rect x="263.5" y="910" width="19" height="44" fill="#0d5fae" opacity="0.55" filter="url(#soft)"/><path d="M264.8,915.0 L273.0,922.0 L281.2,915.0 L281.2,910.0 L273.0,917.0 L264.8,910.0 Z" fill="#0f549c" stroke="#d4f6ff" stroke-width="1.7"/><path d="M264.8,929.0 L273.0,936.0 L281.2,929.0 L281.2,924.0 L273.0,931.0 L264.8,924.0 Z" fill="#0f549c" stroke="#d4f6ff" stroke-width="1.7"/><path d="M264.8,943.5 L273.0,950.5 L281.2,943.5 L281.2,938.5 L273.0,945.5 L264.8,938.5 Z" fill="#0f549c" stroke="#d4f6ff" stroke-width="1.7"/><path d="M222.5,957 L233,954.5 L251.8,956.5 L288.4,955 L279.6,971.5 L254.7,979.7 L228.3,968.5 Z" fill="#1b1c1f"/><path d="M226,958.5 L233,956.5 L250,958.5 L252,975 L230,966.5 Z" fill="#333438"/><path d="M259,962 L283,960 L277,969.5 L259,975.5 Z" fill="#2d2e32"/></g><path d="M299,904 L328,904 L330.5,914 L326,918.5 L297,918.5 L295.5,913 Z" fill="#1d1e21"/><path d="M274,773.5 L252,777 Q236,783 225,806 Q216,826 217.5,846 Q220,872 236,890 Q246,900 258,900 Z" fill="#18191c"/><path d="M241,789 Q228,806 226.5,838 Q227,868 241,889" stroke="#55575b" stroke-width="3.2" fill="none"/><path d="M234,796 Q221,814 221,840 Q222,866 233,882" stroke="#2d2e32" stroke-width="2" fill="none"/><path d="M272,773.5 L371,767.5 Q386,771 390.5,800 Q394,845 382,876 Q370,900 331,904 L262,900.5 Q241,884 238.5,840 Q240,795 272,777 Z" fill="#222326"/><path d="M275,776 L370,770.5 Q381,774 385,792 L283,803 Q262,806 252,826 Q258,792 275,779.5 Z" fill="#34353a"/><path d="M243,850 Q248,884 266,897 L331,900.5 Q366,897 380,874 Q360,888 330,890 L280,888 Q255,880 243,850 Z" fill="#18191c"/><path d="M284,806 L325,803 L325,876 L285,875 Q264,868 262.5,841 Q264,812 284,806 Z" fill="#0e0f11"/><circle cx="283.6" cy="797.8" r="3.6" fill="#0c0d0e"/><circle cx="283.6" cy="797.8" r="2.2" fill="#8d8f93"/><circle cx="283" cy="885" r="3.6" fill="#0c0d0e"/><circle cx="283" cy="885" r="2.2" fill="#8d8f93"/><circle cx="369" cy="787.7" r="3.6" fill="#0c0d0e"/><circle cx="369" cy="787.7" r="2.2" fill="#8d8f93"/><circle cx="367.8" cy="876.4" r="3.6" fill="#0c0d0e"/><circle cx="367.8" cy="876.4" r="2.2" fill="#8d8f93"/><ellipse cx="342" cy="836" rx="44" ry="47" fill="#141518"/><ellipse cx="338" cy="832" rx="30" ry="30" fill="#0d4a8b" opacity="0.5" filter="url(#glow2)"/><path d="M300,850 Q306,878 336,882 Q368,882 384,862 Q360,874 336,870 Q312,866 300,850 Z" fill="#2a2b2f"/><circle cx="362" cy="838.8" r="25" fill="#2d2e32"/><circle cx="362" cy="838.8" r="20" fill="#17181b"/><circle cx="362.5" cy="838.8" r="17" fill="none" stroke="#3a3b40" stroke-width="1.6"/><circle cx="363" cy="838.8" r="14.5" fill="#09090a"/><path d="M352,838 Q353,828 363,826 Q373,826 377,833 L371,837 Q366,831 359,835 L358,850 Q352,848 352,838 Z" fill="#34353a"/><path d="M372.5,796 Q360,786 342,787.5 Q322,790 311,804 Q304,814 304,823.5 L326.5,823.5 Q327,812 336,804.5 Q348,796 366,800.5 Q372,799 372.5,796 Z" fill="#1e8ff0" filter="url(#glow5)"/><path d="M372.5,796 Q360,786 342,787.5 Q322,790 311,804 Q304,814 304,823.5 L326.5,823.5 Q327,812 336,804.5 Q348,796 366,800.5 Q372,799 372.5,796 Z" fill="none" stroke="#2a9ff5" stroke-width="5" filter="url(#glow2)"/><path d="M374,801 Q354,800 343,808 Q335,816 335.5,832 L320,832 Q319,810 333,800 Q350,790 374,797 Z" fill="#1488ec"/><path d="M335.5,832 Q335,816 343,808 Q354,800 374,801" stroke="#0c4f98" stroke-width="2" fill="none" opacity="0.7"/><path d="M302,822.5 L334,822.5 L317.3,849.5 Z" fill="#2297f2" filter="url(#glow2)"/><path d="M372.5,796 Q360,786 342,787.5 Q322,790 311,804 Q304,814 304,823.5 L326.5,823.5 Q327,812 336,804.5 Q348,796 366,800.5 Q372,799 372.5,796 Z" fill="#ffffff"/><path d="M303.6,822 L332,822 L317.3,847.3 Z" fill="#ffffff"/><path d="M391.5,655 Q397,663 408,663.5 Q414,663 417.5,659 L417.5,819 L391.5,823 Z" fill="#2499ec"/><rect x="396.5" y="668" width="16.5" height="142" fill="#0d5fae" opacity="0.6" filter="url(#soft)"/><path d="M396.8,674.5 L405.0,681.2 L413.2,674.5 L413.2,669.8 L405.0,676.5 L396.8,669.8 Z" fill="#0f549c" stroke="#d4f6ff" stroke-width="1.7"/><path d="M396.8,693.1 L405.0,699.9 L413.2,693.1 L413.2,688.4 L405.0,695.1 L396.8,688.4 Z" fill="#0f549c" stroke="#d4f6ff" stroke-width="1.7"/><path d="M396.8,711.8 L405.0,718.5 L413.2,711.8 L413.2,707.0 L405.0,713.7 L396.8,707.0 Z" fill="#0f549c" stroke="#d4f6ff" stroke-width="1.7"/><path d="M396.8,730.3 L405.0,737.0 L413.2,730.3 L413.2,725.5 L405.0,732.2 L396.8,725.5 Z" fill="#0f549c" stroke="#d4f6ff" stroke-width="1.7"/><path d="M396.8,748.9 L405.0,755.6 L413.2,748.9 L413.2,744.1 L405.0,750.9 L396.8,744.1 Z" fill="#0f549c" stroke="#d4f6ff" stroke-width="1.7"/><path d="M396.8,767.5 L405.0,774.2 L413.2,767.5 L413.2,762.8 L405.0,769.5 L396.8,762.8 Z" fill="#0f549c" stroke="#d4f6ff" stroke-width="1.7"/><path d="M396.8,786.1 L405.0,792.9 L413.2,786.1 L413.2,781.4 L405.0,788.1 L396.8,781.4 Z" fill="#0f549c" stroke="#d4f6ff" stroke-width="1.7"/><path d="M396.8,804.8 L405.0,811.5 L413.2,804.8 L413.2,800.0 L405.0,806.7 L396.8,800.0 Z" fill="#0f549c" stroke="#d4f6ff" stroke-width="1.7"/><path d="M377,822 L391.5,823 L417.5,819 L416,832 Q413,852 408,861 Q402,872 394,871 Q383,868 378,856 Z" fill="#1c1d20"/><path d="M392,826 L415.5,822 L414,835 Q411,852 406,860 Q401,867 396,866 Q392,850 392,826 Z" fill="#2e2f33"/>
<defs>
<radialGradient id="ballG" cx="0.45" cy="0.5" r="0.62"><stop offset="0" stop-color="#727478"/><stop offset="0.65" stop-color="#56585c"/><stop offset="1" stop-color="#2a2b2f"/></radialGradient>
<radialGradient id="ballGh" cx="0.45" cy="0.55" r="0.6"><stop offset="0" stop-color="#a9abae"/><stop offset="0.8" stop-color="#8c8e92"/><stop offset="1" stop-color="#7a7c80"/></radialGradient>
<linearGradient id="p1body" x1="0" y1="0" x2="1" y2="0"><stop offset="0" stop-color="#424347"/><stop offset="0.5" stop-color="#4c4d51"/><stop offset="1" stop-color="#434448"/></linearGradient>
<clipPath id="clipP1"><rect x="546" y="58" width="475" height="295" rx="3.5"/></clipPath>
<clipPath id="clipP2"><rect x="546" y="373" width="475" height="269" rx="3.5"/></clipPath>
<clipPath id="clipP3"><rect x="546" y="689" width="475" height="268" rx="3.5"/></clipPath>
</defs>
<g clip-path="url(#clipP1)"><path d="M772,312 L800,308 L812,312 L812,353 L772,353 Z" fill="#141518"/><path d="M790,320 L797,316 L797,353 L790,353 Z" fill="#2e2f33"/><path d="M673,270 L684,268 L688,272 L705,274 L705,297 L690,300 L688,303 L676,304 Z" fill="#1d1e21"/><rect x="693.3" y="284" width="10" height="5.5" rx="2.7" fill="#e8eef5"/><path d="M833.5,277 L858,277.5 L858,300 L833.5,299.5 Z" fill="#17181b"/><path d="M836,283.5 L856,283.5 L856,291 L836,291 Z" fill="#2e2f33"/><path d="M704,273.5 Q704,270.5 708,270.5 L747,269.5 L766,283 L785.5,271 L837,270.5 Q841,270.5 841,274 L842,303 Q842,306.5 838,306.5 L792,310 L785,327 L748,327 L744,308 L708,303 Q704,303 704,300 Z" fill="#1b1c1f"/><path d="M706,274.5 L746,272.5 L764,286 L752,305.5 L708,300 Z" fill="#3c3d41"/><path d="M787,274 L838.5,273 L839.5,302 L792,307 L778,292 Z" fill="#3c3d41"/><circle cx="713" cy="286.5" r="6.5" fill="none" stroke="#2d2e32" stroke-width="1"/><circle cx="819" cy="287" r="6.5" fill="none" stroke="#2d2e32" stroke-width="1"/><ellipse cx="766" cy="314" rx="19.5" ry="30" fill="#1c1d20"/><ellipse cx="766" cy="314" rx="15" ry="25" fill="#2a2b2f"/><rect x="759" y="295" width="14" height="37.4" rx="7" fill="#26272a" stroke="#ffffff" stroke-width="2"/><path d="M632.78,94 L664.332,92 Q683.4,93 683.4,112.43 L683.9,122.4 L634.54,122.4 L634.54,116.4 Z" fill="#17181b"/><path d="M660,93.5 Q670,94 670,106 L670,122.4" stroke="#5a5c60" stroke-width="1" fill="none"/><rect x="637.7" y="112.4" width="32.3" height="11" fill="#55575b"/><rect x="643.7" y="122.4" width="34" height="67.1" fill="#5f6165"/><rect x="652" y="122.4" width="6" height="57.1" fill="#0d0e10"/><rect x="670.5" y="122.4" width="7.2" height="67.1" fill="#18191c"/><path d="M638,188.5 Q638,165.98 648,164.98 L669.7,162.98 Q680.4,164.98 681.4,178.98 L681.4,188.5 L638,188.5 Z" fill="#707276" opacity="0.8"/><rect x="652" y="166.98" width="6" height="14.52" fill="#1a1b1e" opacity="0.75"/><path d="M638,187.5 L683.4,187.5 L683.4,287 Q681.4,301 662.97,303 Q642,301 638,291 Z" fill="url(#p1body)"/><path d="M671.5,187.5 L683.4,187.5 L683.4,287 Q681.4,300 664,303 L671.5,293 Z" fill="#1a1b1e"/><path d="M670,122.4 L670,289 Q669,299 658,302" stroke="#85878b" stroke-width="1.1" fill="none"/><path d="M631.02,272.4 L670,274.4 L670,295.4 L629.26,292.4 Z" fill="#141518"/><g opacity="0.9" transform="translate(618.7,179.7) scale(1,1)"><circle cx="2.112" cy="2.464" r="15.84" fill="url(#ballGh)"/><path d="M-18.48,0 A17.6,17.6 0 0 1 16.72,-9.68 L16.72,-0.88 L-18.48,1.76 Z" fill="#7b7d81"/><path d="M-16.72,-0.704 A15.84,14.432 0 0 1 7.392,-10.912 L8.8,-2.112 Z" fill="#a4a6a9"/></g><g transform="translate(618.7,111) scale(1,1)"><circle cx="2.112" cy="2.464" r="15.84" fill="url(#ballG)"/><path d="M17.16,5.632 A15.84,15.84 0 0 1 -5.808,15.928" stroke="#1d1e21" stroke-width="1.6" fill="none"/><path d="M-18.48,0 A17.6,17.6 0 0 1 16.72,-9.68 L16.72,-0.88 L-18.48,1.76 Z" fill="#141518"/><path d="M-16.72,-0.704 A15.84,14.432 0 0 1 7.392,-10.912 L8.8,-2.112 Z" fill="#66686c"/></g><g transform="translate(618.7,278.4) scale(1,-1)"><circle cx="2.112" cy="2.464" r="15.84" fill="url(#ballG)"/><path d="M17.16,5.632 A15.84,15.84 0 0 1 -5.808,15.928" stroke="#1d1e21" stroke-width="1.6" fill="none"/><path d="M-18.48,0 A17.6,17.6 0 0 1 16.72,-9.68 L16.72,-0.88 L-18.48,1.76 Z" fill="#141518"/><path d="M-16.72,-0.704 A15.84,14.432 0 0 1 7.392,-10.912 L8.8,-2.112 Z" fill="#66686c"/></g><path d="M877.5,83.3 L900.804,81.3 Q921.3,82.3 921.3,103.26 L921.8,113.9 L879.4,113.9 L879.4,107.9 Z" fill="#17181b"/><path d="M899.5,82.8 Q909.5,83.3 909.5,95.3 L909.5,113.9" stroke="#5a5c60" stroke-width="1" fill="none"/><rect x="873.3" y="103.9" width="36.2" height="11" fill="#55575b"/><rect x="879.3" y="113.9" width="36.3" height="71.4" fill="#5f6165"/><rect x="888.7" y="113.9" width="7.1" height="61.4" fill="#0d0e10"/><rect x="910" y="113.9" width="5.6" height="71.4" fill="#18191c"/><path d="M872.5,184.3 Q872.5,155.45 882.5,154.45 L907.6,152.45 Q918.3,154.45 919.3,168.45 L919.3,184.3 L872.5,184.3 Z" fill="#707276" opacity="0.8"/><rect x="888.7" y="156.45" width="7.1" height="20.85" fill="#1a1b1e" opacity="0.75"/><path d="M872.5,183.3 L921.3,183.3 L921.3,294 Q919.3,308 899.34,310 Q876.5,308 872.5,298 Z" fill="url(#p1body)"/><path d="M911,183.3 L921.3,183.3 L921.3,294 Q919.3,307 903.5,310 L911,300 Z" fill="#1a1b1e"/><path d="M909.5,113.9 L909.5,296 Q908.5,306 897.5,309" stroke="#85878b" stroke-width="1.1" fill="none"/><path d="M883,275.3 L909.5,277.3 L909.5,298.3 L881.1,295.3 Z" fill="#141518"/><g opacity="0.9" transform="translate(862.3,170.5) scale(1,1)"><circle cx="2.28" cy="2.66" r="17.1" fill="url(#ballGh)"/><path d="M-19.95,0 A19,19 0 0 1 18.05,-10.45 L18.05,-0.95 L-19.95,1.9 Z" fill="#7b7d81"/><path d="M-18.05,-0.76 A17.1,15.58 0 0 1 7.98,-11.78 L9.5,-2.28 Z" fill="#a4a6a9"/></g><g transform="translate(862.3,101.2) scale(1,1)"><circle cx="2.28" cy="2.66" r="17.1" fill="url(#ballG)"/><path d="M18.525,6.08 A17.1,17.1 0 0 1 -6.27,17.195" stroke="#1d1e21" stroke-width="1.6" fill="none"/><path d="M-19.95,0 A19,19 0 0 1 18.05,-10.45 L18.05,-0.95 L-19.95,1.9 Z" fill="#141518"/><path d="M-18.05,-0.76 A17.1,15.58 0 0 1 7.98,-11.78 L9.5,-2.28 Z" fill="#66686c"/></g><g transform="translate(869.7,281.3) scale(1,-1)"><circle cx="2.28" cy="2.66" r="17.1" fill="url(#ballG)"/><path d="M18.525,6.08 A17.1,17.1 0 0 1 -6.27,17.195" stroke="#1d1e21" stroke-width="1.6" fill="none"/><path d="M-19.95,0 A19,19 0 0 1 18.05,-10.45 L18.05,-0.95 L-19.95,1.9 Z" fill="#141518"/><path d="M-18.05,-0.76 A17.1,15.58 0 0 1 7.98,-11.78 L9.5,-2.28 Z" fill="#66686c"/></g><g stroke="#6ccbea" stroke-width="2.5" fill="none"><path d="M888.7,104H942.5M934,104V278.2M887.3,176.2H921.3M902,176.2V278.2M888.7,278.2H941.6"/><path d="M911.3,176V278" stroke-width="1" opacity="0.5"/></g></g>
<g clip-path="url(#clipP2)"><rect x="656" y="406.5" width="47" height="175" rx="20.5" fill="#aab7c6" opacity="0.75"/><rect x="661" y="410" width="35" height="168" rx="15.5" fill="#c3cfdc" opacity="0.7"/><rect x="672.5" y="442" width="14" height="7" fill="#d8e0ea" opacity="0.8"/><rect x="672.5" y="532" width="14" height="7" fill="#d8e0ea" opacity="0.8"/><rect x="877" y="406.5" width="45.8" height="175" rx="19.9" fill="#aab7c6" opacity="0.75"/><rect x="882" y="410" width="33.8" height="168" rx="14.9" fill="#c3cfdc" opacity="0.7"/><rect x="892.9" y="442" width="14" height="7" fill="#d8e0ea" opacity="0.8"/><rect x="892.9" y="532" width="14" height="7" fill="#d8e0ea" opacity="0.8"/><path d="M765,588 L816,588 L816,642 L765,642 Z" fill="#1a1b1e"/><path d="M770,600 L811,600 L811,642 L770,642 Z" fill="#2a2b2f"/><path d="M655,542.5 L710,541 L710,578 L661,577 L655,574 Z" fill="#2b2c30"/><path d="M655,543 L710,541.5 L710,546 L655,547 Z" fill="#18191c"/><rect x="672.5" y="557" width="32" height="10" rx="5" fill="#17181a" stroke="#8a8c90" stroke-width="1"/><rect x="677" y="559.5" width="24" height="3" rx="1.5" fill="#c9cbce"/><path d="M878,542.5 L925,543.5 L925,576 L878,579 Z" fill="#2b2c30"/><path d="M878,542.5 L925,543.5 L925,547.5 L878,546.5 Z" fill="#18191c"/><rect x="881" y="558" width="23" height="5.2" rx="2.6" fill="#e4e7ea"/><path d="M704,541 L709,538.6 L766.2,538.6 L786,554 L797.4,552.5 L816,538.6 L878.5,539.5 L878.5,581 L827,582.5 L818,597 L766,597 L757,584 L709.5,582 L704,579.5 Z" fill="#18191c"/><path d="M707,545 L764,543.5 L784,558 L770,581 L757,580.5 L709.5,578.5 Z" fill="#313236"/><path d="M818,543.5 L876,544.5 L876,577.5 L828,579 L815,589 L799,557 Z" fill="#313236"/><circle cx="793" cy="577.8" r="24" fill="#1c1d20"/><circle cx="793" cy="578.8" r="21" fill="#2d2e32"/><path d="M772,572 A21.5,21.5 0 0 1 814,572" stroke="#55575b" stroke-width="1.2" fill="none"/><circle cx="792" cy="607" r="23" fill="#141518"/><circle cx="791.8" cy="607" r="15.5" fill="#111215"/><rect x="787.4" y="586.5" width="8.8" height="41" rx="2" fill="#2a2b2f"/><circle cx="791.8" cy="607" r="11" fill="#2e2f33"/><circle cx="791.8" cy="607" r="7.26" fill="#3d3e42"/><path d="M772,636 A20,14 0 0 1 812,636 L812,642 L772,642 Z" fill="#2e2f33"/><circle cx="722" cy="564" r="14.3" fill="#111215"/><rect x="718.08" y="544.7" width="7.84" height="38.6" rx="2" fill="#2a2b2f"/><circle cx="722" cy="564" r="9.8" fill="#2e2f33"/><circle cx="722" cy="564" r="6.468" fill="#3d3e42"/><circle cx="862.9" cy="564" r="14.3" fill="#111215"/><rect x="858.98" y="544.7" width="7.84" height="38.6" rx="2" fill="#2a2b2f"/><circle cx="862.9" cy="564" r="9.8" fill="#2e2f33"/><circle cx="862.9" cy="564" r="6.468" fill="#3d3e42"/><path d="M652,422 L664,432 L664,548 L652,562 Z" fill="#141518"/><path d="M659.5,436 L659.5,542" stroke="#c9cbce" stroke-width="1.2"/><rect x="605.2" y="405.8" width="49.8" height="177.8" rx="23.9" fill="#1a1b1e"/><rect x="607.4" y="408" width="45.4" height="173.4" rx="21.9" fill="#434448"/><path d="M606.7,439 L606.7,430.7 Q606.7,407.3 630.1,407.3 Q653.5,407.3 653.5,430.7 Z" fill="#121316"/><rect x="606.7" y="429.7" width="46.8" height="9.8" fill="#121316"/><path d="M607.7,439.8 L652.5,439.8" stroke="#55575b" stroke-width="1"/><rect x="617.6" y="449.7" width="21" height="7.6" fill="#0e0f11"/><rect x="619.1" y="449.7" width="4" height="7.6" fill="#8a8c90"/><rect x="633.1" y="449.7" width="4" height="7.6" fill="#6c6e72"/><rect x="617.6" y="536" width="21" height="7.6" fill="#0e0f11"/><rect x="619.1" y="536" width="4" height="7.6" fill="#8a8c90"/><rect x="633.1" y="536" width="4" height="7.6" fill="#6c6e72"/><rect x="617.6" y="476" width="21.5" height="58" fill="#313236"/><rect x="617.6" y="476" width="2" height="58" fill="#1d1e21"/><circle cx="629.1" cy="557" r="6.6" fill="#37383c" stroke="#26272a" stroke-width="1.2"/><path d="M924.6,422 L914.6,432 L914.6,548 L924.6,562 Z" fill="#141518"/><rect x="921.6" y="405.8" width="51.4" height="177.8" rx="24.7" fill="#1a1b1e"/><rect x="923.8" y="408" width="47" height="173.4" rx="22.7" fill="#434448"/><path d="M923.1,439 L923.1,431.5 Q923.1,407.3 947.3,407.3 Q971.5,407.3 971.5,431.5 Z" fill="#121316"/><rect x="923.1" y="430.5" width="48.4" height="9" fill="#121316"/><path d="M924.1,439.8 L970.5,439.8" stroke="#55575b" stroke-width="1"/><rect x="938.8" y="449.7" width="21" height="7.6" fill="#0e0f11"/><rect x="940.3" y="449.7" width="4" height="7.6" fill="#8a8c90"/><rect x="954.3" y="449.7" width="4" height="7.6" fill="#6c6e72"/><rect x="938.8" y="536" width="21" height="7.6" fill="#0e0f11"/><rect x="940.3" y="536" width="4" height="7.6" fill="#8a8c90"/><rect x="954.3" y="536" width="4" height="7.6" fill="#6c6e72"/><rect x="938.8" y="476" width="21.5" height="58" fill="#313236"/><rect x="938.8" y="476" width="2" height="58" fill="#1d1e21"/><circle cx="950.3" cy="557" r="6.6" fill="#37383c" stroke="#26272a" stroke-width="1.2"/><g stroke="#74c6e6" stroke-width="3.2" fill="none"><path d="M658,472.8H920"/><path d="M704,524H877"/></g><g stroke="#b4e2f3" stroke-width="1" fill="none" opacity="0.9"><path d="M658,471H920"/><path d="M704,522.2H877"/></g></g>
<g clip-path="url(#clipP3)"><rect x="864" y="760.3" width="41" height="13.2" rx="4" fill="#1c1d20"/><rect x="864" y="778" width="15" height="8.8" rx="2" fill="#222327"/><rect x="864" y="877.5" width="15" height="8.8" rx="2" fill="#222327"/><rect x="864" y="892.2" width="41" height="13.2" rx="4" fill="#1c1d20"/><path d="M866,905 L893,905 L893,918 L885,925 L886,938 L938,939 L939,957 L866,957 Z" fill="#17181b"/><path d="M872,910 L884,910 L878,930 L884,950 L872,950 Z" fill="#2c2d31"/><path d="M895,942 L908,942 L908,957 L895,957 Z" fill="#0e0f11"/><g transform=""><path d="M732,742 Q733,735 740,734 L758,734 L758,785 L748,785 L746,760 L736,758 Q732,752 732,742 Z" fill="#66686c" opacity="0.9"/><path d="M698.5,752 Q698.5,741 706,739.5 L730,739 L730,735 L814,735 L814,764.5 L716,764.5 L713,785 L706,785 Q698,770 698.5,752 Z" fill="#141518"/><path d="M704,747 L812,746 L812,751 L704,752 Z" fill="#2f3034"/><rect x="757" y="762.5" width="45" height="7" fill="#7d7f83" opacity="0.85"/><path d="M667.6,735 Q667,712 676,706.5 L820,706 L820,737 L690,737.5 L687,747 L686,771 L676,771 Q668,755 667.6,735 Z" fill="#121316"/><path d="M674,712 L818,711.5 L818,718 L674,719 Z" fill="#2d2e32"/><rect x="748" y="706" width="59" height="7.5" fill="#7f8185"/><path d="M733,706 L746,706 L746,737 L733,737 Z" fill="#0a0b0c"/><path d="M733.5,708 Q731,722 733.5,736" stroke="#4a4b50" stroke-width="1" fill="none"/><path d="M728,740 Q731,735 741,735 L741,772 L733,770 Q727,756 728,740 Z" fill="#1b1c1f"/></g><g transform="translate(0,1649.6) scale(1,-1)"><path d="M732,742 Q733,735 740,734 L758,734 L758,785 L748,785 L746,760 L736,758 Q732,752 732,742 Z" fill="#66686c" opacity="0.9"/><path d="M698.5,752 Q698.5,741 706,739.5 L730,739 L730,735 L814,735 L814,764.5 L716,764.5 L713,785 L706,785 Q698,770 698.5,752 Z" fill="#141518"/><path d="M704,747 L812,746 L812,751 L704,752 Z" fill="#2f3034"/><rect x="757" y="762.5" width="45" height="7" fill="#7d7f83" opacity="0.85"/><path d="M667.6,735 Q667,712 676,706.5 L820,706 L820,737 L690,737.5 L687,747 L686,771 L676,771 Q668,755 667.6,735 Z" fill="#121316"/><path d="M674,712 L818,711.5 L818,718 L674,719 Z" fill="#2d2e32"/><rect x="748" y="706" width="59" height="7.5" fill="#7f8185"/><path d="M733,706 L746,706 L746,737 L733,737 Z" fill="#0a0b0c"/><path d="M733.5,708 Q731,722 733.5,736" stroke="#4a4b50" stroke-width="1" fill="none"/><path d="M728,740 Q731,735 741,735 L741,772 L733,770 Q727,756 728,740 Z" fill="#1b1c1f"/></g><rect x="813.5" y="737" width="6" height="176" fill="#141518"/><path d="M818.5,712 Q819,702 829,701.5 L833,703 L866.8,744 L866.8,957 L818.5,957 Z" fill="#17181b"/><path d="M825,712 Q826,706 831,707 L861,746 L861,957 L825,957 Z" fill="#25262a"/><path d="M822,714 L822,957" stroke="#6f7175" stroke-width="1.2"/><path d="M831,705.5 L864,745.5" stroke="#4c4d52" stroke-width="1.2"/><g stroke="#6ccbeb" stroke-width="2.6" fill="none"><path d="M686.6,747V902.4"/><path d="M744.3,756V895"/><path d="M744.3,801.3H816"/><path d="M686.6,863.4H816"/></g><path d="M690,750V900" stroke="#b4e4f5" stroke-width="1" opacity="0.8"/></g>
</svg>
</body></html>
